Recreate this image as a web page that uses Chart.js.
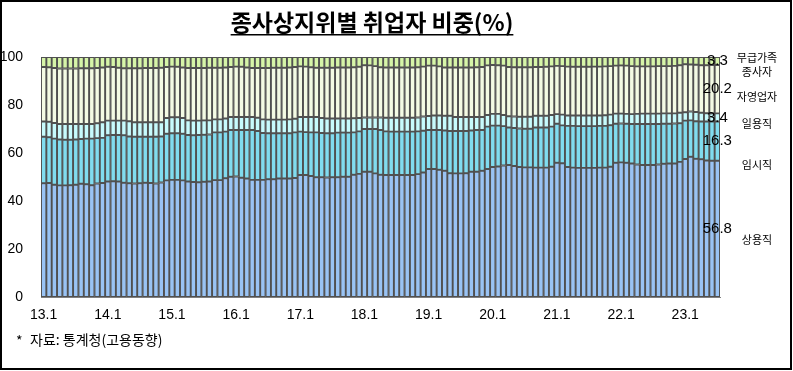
<!DOCTYPE html>
<html>
<head>
<meta charset="utf-8">
<script src="https://cdn.jsdelivr.net/npm/chart.js@4.4.1/dist/chart.umd.min.js"></script>
<style>
  html, body { margin: 0; padding: 0; background: #ffffff; }
  #theViz { display: block; }
</style>
</head>
<body>
<canvas id="theViz" width="793" height="371"></canvas>
<script>
// monthly shares (%), 2013.1 ~ 2023.7
const years = [13, 14, 15, 16, 17, 18, 19, 20, 21, 22, 23];
const lastMonth = 7;
const tickLabels = ['13.1', '14.1', '15.1', '16.1', '17.1', '18.1', '19.1', '20.1', '21.1', '22.1', '23.1'];
const seriesNames = ['상용직', '임시직', '일용직', '자영업자', '무급가족종사자'];

const regular = [
  47.4, 47.5, 46.8, 46.5, 46.5, 46.6, 46.8, 47.2, 47.0, 46.6, 47.3, 47.5,
  48.1, 48.2, 48.1, 47.6, 47.4, 47.3, 47.4, 47.6, 47.5, 47.3, 47.7, 48.6,
  48.8, 48.8, 48.6, 48.1, 47.9, 47.8, 48.0, 48.1, 48.7, 48.7, 49.5, 50.1,
  50.2, 49.7, 49.4, 48.8, 48.8, 48.8, 49.1, 49.1, 49.4, 49.4, 49.4, 49.6,
  50.8, 50.8, 50.4, 49.9, 49.9, 49.8, 49.9, 49.9, 50.1, 50.1, 50.9, 51.3,
  52.2, 52.2, 51.5, 50.9, 50.8, 50.8, 50.8, 50.8, 50.8, 50.8, 51.2, 51.9,
  53.3, 53.3, 53.0, 52.6, 51.6, 51.5, 51.5, 51.6, 52.2, 52.2, 52.6, 53.3,
  54.2, 54.4, 54.8, 55.0, 54.6, 54.2, 54.0, 54.0, 53.9, 53.9, 53.9, 54.3,
  55.9, 55.7, 54.2, 53.9, 53.8, 53.8, 53.8, 53.8, 53.9, 53.9, 54.3, 55.9,
  56.1, 55.9, 55.6, 55.2, 55.0, 55.0, 55.0, 55.2, 55.5, 55.6, 55.6, 56.3,
  57.5, 58.4, 57.6, 57.4, 56.9, 56.8, 56.8
];
const temporary = [
  19.4, 19.1, 19.2, 19.1, 19.0, 18.9, 18.8, 18.6, 19.0, 19.4, 18.9, 18.8,
  19.3, 19.3, 19.4, 19.8, 19.5, 19.5, 19.4, 19.2, 19.3, 19.5, 19.2, 19.4,
  19.4, 19.4, 19.4, 19.4, 19.5, 19.7, 19.6, 19.6, 19.9, 19.9, 19.4, 19.5,
  19.4, 19.9, 20.2, 20.8, 20.4, 19.5, 19.1, 19.1, 18.8, 18.8, 18.8, 19.0,
  18.1, 17.9, 18.2, 18.7, 18.4, 18.4, 18.3, 18.6, 18.4, 18.4, 17.7, 17.7,
  17.8, 17.8, 18.5, 18.7, 18.2, 18.1, 18.1, 18.1, 18.1, 18.1, 17.8, 17.4,
  16.3, 16.3, 16.6, 16.8, 17.6, 17.7, 17.7, 17.6, 17.2, 17.4, 17.0, 17.7,
  17.2, 17.0, 16.4, 15.6, 15.8, 16.0, 16.1, 16.1, 16.7, 16.7, 16.7, 16.7,
  16.3, 15.8, 17.1, 17.4, 17.4, 17.4, 17.4, 17.4, 17.4, 17.4, 17.3, 16.3,
  16.2, 16.3, 16.5, 16.9, 17.1, 17.1, 17.1, 16.9, 16.7, 16.6, 16.7, 16.1,
  16.0, 15.2, 15.6, 15.7, 16.2, 16.3, 16.3
];
const daily = [
  6.3, 6.4, 6.5, 6.5, 6.6, 6.6, 6.5, 6.3, 6.1, 6.1, 6.2, 6.5,
  6.1, 6.0, 6.0, 6.1, 6.3, 6.0, 6.0, 6.0, 6.0, 6.0, 5.9, 6.6,
  6.7, 6.7, 6.6, 6.1, 6.1, 6.0, 6.0, 5.9, 5.4, 5.4, 5.5, 5.4,
  5.4, 5.4, 5.4, 5.4, 5.5, 5.7, 5.7, 5.7, 5.7, 5.7, 5.8, 5.7,
  6.1, 6.3, 6.4, 6.4, 6.3, 6.2, 6.2, 5.9, 5.9, 5.9, 5.9, 5.6,
  4.8, 4.8, 4.8, 5.2, 5.7, 5.8, 5.8, 5.8, 5.8, 5.8, 5.8, 5.9,
  5.8, 6.0, 6.0, 6.1, 6.3, 5.8, 5.8, 5.8, 5.6, 5.4, 5.4, 4.8,
  4.9, 4.9, 4.6, 4.7, 4.8, 4.9, 5.0, 5.0, 4.9, 4.9, 4.9, 4.8,
  4.0, 4.5, 4.3, 4.3, 4.4, 4.4, 4.4, 4.4, 4.3, 4.4, 4.4, 4.2,
  4.1, 4.1, 4.1, 4.2, 4.3, 4.3, 4.3, 4.3, 4.3, 4.3, 4.2, 4.4,
  3.5, 3.7, 3.9, 3.7, 3.5, 3.4, 3.4
];
const selfEmployed = [
  22.7, 22.7, 22.9, 23.1, 23.1, 23.1, 23.1, 23.2, 23.2, 23.2, 23.0, 22.8,
  22.4, 22.3, 22.0, 21.8, 22.1, 22.5, 22.5, 22.6, 22.6, 22.6, 22.7, 21.2,
  21.1, 21.0, 21.0, 21.8, 21.9, 21.9, 21.8, 21.9, 21.5, 21.5, 21.2, 20.8,
  21.0, 20.9, 20.6, 20.4, 20.7, 21.4, 21.5, 21.6, 21.6, 21.6, 21.6, 21.5,
  21.1, 21.0, 20.7, 20.5, 20.9, 21.1, 21.1, 21.2, 21.2, 21.2, 21.2, 21.3,
  21.8, 21.7, 21.4, 20.9, 20.9, 20.9, 20.9, 20.9, 20.9, 20.9, 20.9, 20.8,
  21.0, 20.8, 20.5, 20.1, 20.1, 20.6, 20.6, 20.6, 20.6, 20.7, 20.8, 20.7,
  20.4, 20.3, 20.6, 20.5, 20.5, 20.6, 20.6, 20.6, 20.3, 20.3, 20.4, 20.3,
  20.1, 20.2, 20.4, 20.3, 20.3, 20.3, 20.3, 20.4, 20.4, 20.4, 20.2, 20.0,
  20.1, 20.1, 20.0, 19.8, 19.7, 19.7, 19.7, 19.8, 19.7, 19.7, 19.8, 19.8,
  20.0, 19.6, 19.7, 19.8, 20.0, 20.2, 20.2
];
const unpaidFamily = [
  4.2, 4.3, 4.6, 4.8, 4.8, 4.8, 4.8, 4.7, 4.7, 4.7, 4.6, 4.4,
  4.1, 4.2, 4.5, 4.7, 4.7, 4.7, 4.7, 4.6, 4.6, 4.6, 4.5, 4.2,
  4.0, 4.1, 4.4, 4.6, 4.6, 4.6, 4.6, 4.5, 4.5, 4.5, 4.4, 4.2,
  4.0, 4.1, 4.4, 4.6, 4.6, 4.6, 4.6, 4.5, 4.5, 4.5, 4.4, 4.2,
  3.9, 4.0, 4.3, 4.5, 4.5, 4.5, 4.5, 4.4, 4.4, 4.4, 4.3, 4.1,
  3.4, 3.5, 3.8, 4.3, 4.4, 4.4, 4.4, 4.4, 4.4, 4.4, 4.3, 4.0,
  3.6, 3.6, 3.9, 4.4, 4.4, 4.4, 4.4, 4.4, 4.4, 4.3, 4.2, 3.5,
  3.3, 3.4, 3.6, 4.2, 4.3, 4.3, 4.3, 4.3, 4.2, 4.2, 4.1, 3.9,
  3.7, 3.8, 4.0, 4.1, 4.1, 4.1, 4.1, 4.0, 4.0, 3.9, 3.8, 3.6,
  3.5, 3.6, 3.8, 3.9, 3.9, 3.9, 3.9, 3.8, 3.8, 3.8, 3.7, 3.4,
  3.0, 3.1, 3.2, 3.4, 3.4, 3.3, 3.3
];

const months = [];
years.forEach(y => {
  const n = (y === years[years.length - 1]) ? lastMonth : 12;
  for (let m = 1; m <= n; m++) months.push(y + '.' + m);
});

const fillColors = ['#99c3f4', '#80dcef', '#c7fbfd', '#f4fbe4', '#d6f5a8'];
const allSeries = [regular, temporary, daily, selfEmployed, unpaidFamily];

const korFont = '"Noto Sans CJK KR", "Noto Sans", sans-serif';
const numFont = '"Liberation Sans", Arial, sans-serif';

const decorations = {
  id: 'decorations',
  afterDraw(chart) {
    const ctx = chart.ctx;
    ctx.save();

    // title with underline
    const title = '종사상지위별 취업자 비중(%)';
    ctx.font = 'bold 23px ' + korFont;
    ctx.fillStyle = '#000';
    ctx.textAlign = 'center';
    ctx.textBaseline = 'alphabetic';
    ctx.fillText(title, 372, 31);
    const w = ctx.measureText(title).width;
    ctx.fillRect(372 - w / 2, 34, w, 1.5);

    // value labels on the last bar + series names at the right
    const last = months.length - 1;
    const nameOffsets = [11, 24, 6, 8, 4];
    ctx.textBaseline = 'middle';
    allSeries.forEach((s, i) => {
      const bar = chart.getDatasetMeta(i).data[last];
      const cy = (bar.y + bar.base) / 2;
      ctx.font = '15px ' + numFont;
      ctx.fillStyle = '#000';
      ctx.textAlign = 'center';
      ctx.fillText(s[last].toFixed(1), bar.x, cy);

      ctx.font = '11px ' + korFont;
      const ny = cy + nameOffsets[i];
      if (i === 4) {
        ctx.fillText('무급가족', 757, ny - 7);
        ctx.fillText('종사자', 757, ny + 7);
      } else {
        ctx.fillText(seriesNames[i], 757, ny);
      }
    });

    // source note
    ctx.textAlign = 'left';
    ctx.font = '14px ' + korFont;
    ctx.fillText('*', 16, 341);
    ctx.fillText('자료: 통계청(고용동향)', 30, 340);

    // frame
    ctx.strokeStyle = '#000';
    ctx.lineWidth = 2;
    ctx.strokeRect(1, 1, 790, 368);
    ctx.restore();
  }
};

const ctx = document.getElementById('theViz').getContext('2d');
window.theViz = new Chart(ctx, {
  type: 'bar',
  data: {
    labels: months,
    datasets: allSeries.map((s, i) => ({
      label: seriesNames[i],
      data: s,
      backgroundColor: fillColors[i],
      borderColor: '#505050',
      borderWidth: 1.3,
      borderSkipped: false,
      barPercentage: 1,
      categoryPercentage: 1
    }))
  },
  options: {
    responsive: false,
    animation: false,
    devicePixelRatio: 1,
    layout: { padding: { left: 0, right: 73, top: 57, bottom: 44 } },
    plugins: {
      legend: { display: false },
      title: { display: false },
      tooltip: { enabled: false }
    },
    scales: {
      x: {
        stacked: true,
        grid: { display: false },
        border: { display: true, color: '#808080' },
        afterFit: axis => { axis.height = 30; },
        ticks: {
          autoSkip: false,
          maxRotation: 0,
          minRotation: 0,
          padding: 2,
          color: '#000',
          font: { family: numFont, size: 14 },
          callback: function (val) {
            const lab = this.getLabelForValue(val);
            return tickLabels.includes(lab) ? lab : '';
          }
        }
      },
      y: {
        stacked: true,
        min: 0,
        max: 100,
        grid: { display: false },
        border: { display: true, color: '#808080' },
        afterFit: axis => { axis.width = 41; },
        ticks: {
          stepSize: 20,
          padding: 10,
          color: '#000',
          font: { family: numFont, size: 14 }
        }
      }
    }
  },
  plugins: [decorations]
});
</script>
</body>
</html>
